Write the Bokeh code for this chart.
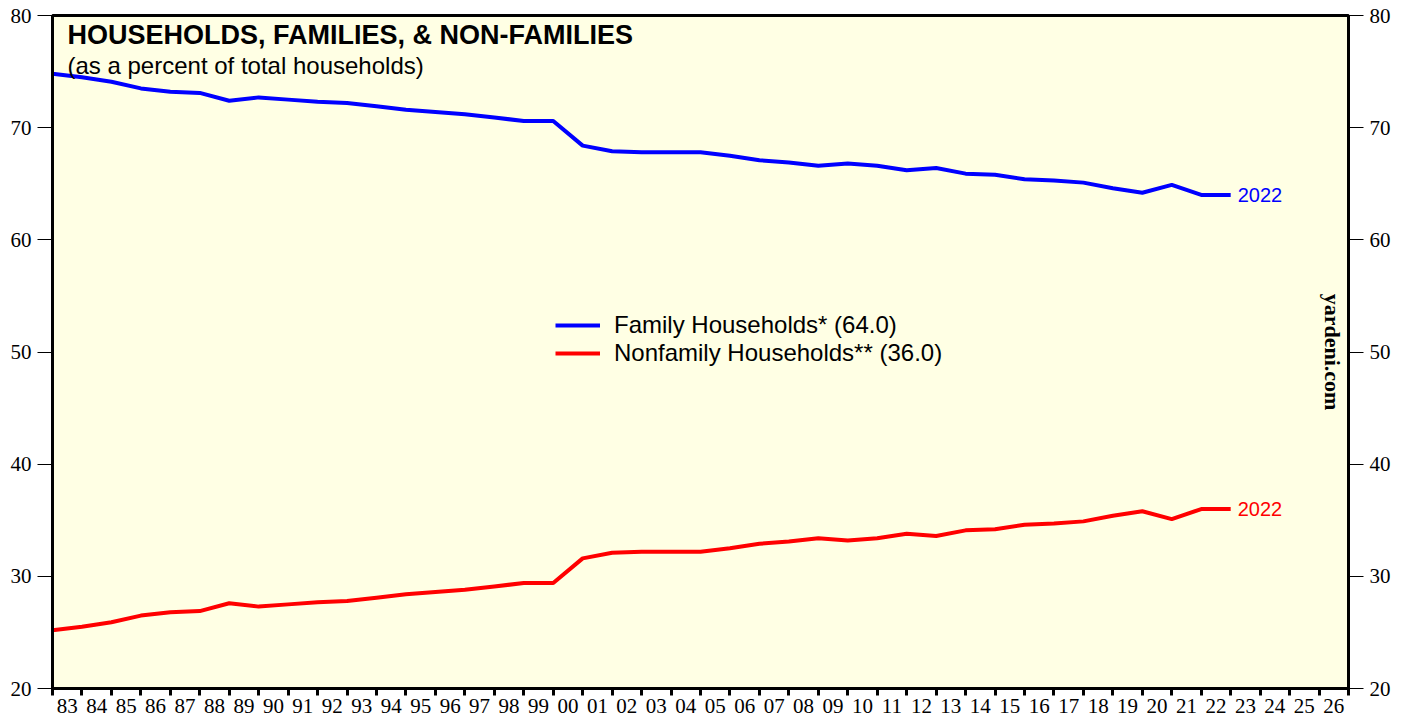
import math
from bokeh.plotting import figure
from bokeh.models import Range1d, LinearAxis, FixedTicker, Label
from bokeh.embed import file_html
from bokeh.resources import INLINE

years = [1983, 1984, 1985, 1986, 1987, 1988, 1989, 1990, 1991, 1992,
         1993, 1994, 1995, 1996, 1997, 1998, 1999, 2000, 2001, 2002,
         2003, 2004, 2005, 2006, 2007, 2008, 2009, 2010, 2011, 2012,
         2013, 2014, 2015, 2016, 2017, 2018, 2019, 2020, 2021, 2022, 2023]
family = [74.8, 74.5, 74.1, 73.5, 73.2, 73.1, 72.4, 72.7, 72.5, 72.3,
          72.2, 71.9, 71.6, 71.4, 71.2, 70.9, 70.6, 70.6, 68.4, 67.9,
          67.8, 67.8, 67.8, 67.5, 67.1, 66.9, 66.6, 66.8, 66.6, 66.2,
          66.4, 65.9, 65.8, 65.4, 65.3, 65.1, 64.6, 64.2, 64.9, 64.0, 64.0]
nonfamily = [25.2, 25.5, 25.9, 26.5, 26.8, 26.9, 27.6, 27.3, 27.5, 27.7,
             27.8, 28.1, 28.4, 28.6, 28.8, 29.1, 29.4, 29.4, 31.6, 32.1,
             32.2, 32.2, 32.2, 32.5, 32.9, 33.1, 33.4, 33.2, 33.4, 33.8,
             33.6, 34.1, 34.2, 34.6, 34.7, 34.9, 35.4, 35.8, 35.1, 36.0, 36.0]
x_tick_labels = ["83", "84", "85", "86", "87", "88", "89", "90", "91", "92",
                 "93", "94", "95", "96", "97", "98", "99", "00", "01", "02",
                 "03", "04", "05", "06", "07", "08", "09", "10", "11", "12",
                 "13", "14", "15", "16", "17", "18", "19", "20", "21", "22",
                 "23", "24", "25", "26"]
y_ticks = [20, 30, 40, 50, 60, 70, 80]
x_start, x_end = 1983, 2027
y_start, y_end = 20, 80

p = figure(width=1400, height=716, output_backend="svg", toolbar_location=None,
           x_range=Range1d(x_start, x_end), y_range=Range1d(y_start, y_end),
           min_border_left=52, min_border_right=52, min_border_top=15, min_border_bottom=28,
           background_fill_color="#FFFFE4", border_fill_color="white",
           outline_line_color="black", outline_line_width=3)
p.grid.visible = False

# x axis: minor ticks at year boundaries, labels centred in each year
major = [x_start + 0.5 + i for i in range(len(x_tick_labels))]
minor = [x_start + i for i in range(len(x_tick_labels) + 1)]
xa = p.xaxis[0]
xa.ticker = FixedTicker(ticks=major, minor_ticks=minor)
xa.major_label_overrides = {m: lbl for m, lbl in zip(major, x_tick_labels)}
xa.major_tick_out = 0
xa.major_tick_in = 0
xa.minor_tick_out = 7
xa.minor_tick_in = 0
xa.minor_tick_line_width = 3
xa.minor_tick_line_color = "black"
xa.axis_line_width = 3
xa.axis_line_color = "black"
xa.major_label_standoff = 3
xa.major_label_text_font = "Liberation Serif"
xa.major_label_text_font_size = "21px"
xa.major_label_text_color = "black"

def style_y(ax):
    ax.ticker = FixedTicker(ticks=y_ticks, minor_ticks=[])
    ax.major_tick_out = 15
    ax.major_tick_in = 0
    ax.major_tick_line_width = 1
    ax.major_tick_line_color = "black"
    ax.minor_tick_out = 0
    ax.minor_tick_in = 0
    ax.axis_line_width = 3
    ax.axis_line_color = "black"
    ax.major_label_standoff = 6
    ax.major_label_text_font = "Liberation Serif"
    ax.major_label_text_font_size = "21px"
    ax.major_label_text_color = "black"

style_y(p.yaxis[0])
ry = LinearAxis()
style_y(ry)
p.add_layout(ry, "right")

p.line(years, family, line_color="#0000FF", line_width=4,
       legend_label="Family Households* (64.0)")
p.line(years, nonfamily, line_color="#FF0000", line_width=4,
       legend_label="Nonfamily Households** (36.0)")

lg = p.legend[0]
lg.location = (503, 321)
lg.label_text_font = "Liberation Sans"
lg.label_text_font_size = "24px"
lg.label_text_color = "black"
lg.glyph_width = 45
lg.glyph_height = 28
lg.label_height = 28
lg.label_standoff = 14
lg.spacing = -1
lg.padding = 0
lg.margin = 0
lg.background_fill_alpha = 0
lg.border_line_alpha = 0

p.add_layout(Label(x=years[-1], y=family[-1], x_offset=7, text="2022",
                   text_baseline="middle", text_color="#0000FF",
                   text_font="Liberation Sans", text_font_size="20px"))
p.add_layout(Label(x=years[-1], y=nonfamily[-1], x_offset=7, text="2022",
                   text_baseline="middle", text_color="#FF0000",
                   text_font="Liberation Sans", text_font_size="20px"))

p.add_layout(Label(x=x_start, y=y_end, x_offset=15, y_offset=-4,
                   text="HOUSEHOLDS, FAMILIES, & NON-FAMILIES",
                   text_baseline="top", text_color="black", text_font_style="bold",
                   text_font="Liberation Sans", text_font_size="27px"))
p.add_layout(Label(x=x_start, y=y_end, x_offset=15, y_offset=-36,
                   text="(as a percent of total households)",
                   text_baseline="top", text_color="black",
                   text_font="Liberation Sans", text_font_size="24px"))
p.add_layout(Label(x=x_end, y=50, x_offset=-16, text="yardeni.com",
                   angle=-math.pi / 2, text_align="center", text_baseline="middle",
                   text_color="black", text_font_style="bold",
                   text_font="Liberation Serif", text_font_size="22px"))

open("out.html", "w").write(file_html(p, INLINE))
